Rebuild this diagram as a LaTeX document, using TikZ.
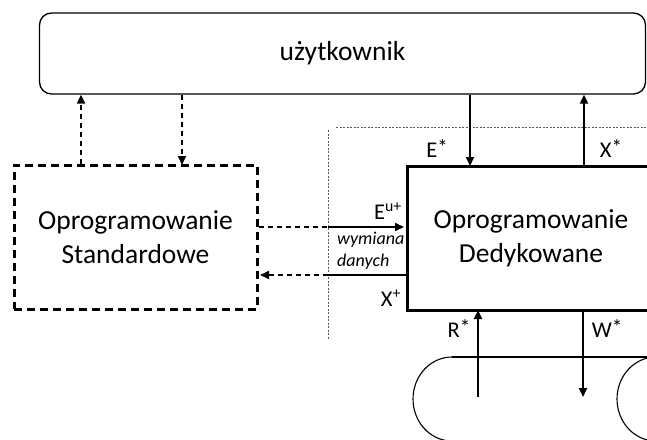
\documentclass[tikz,border=0pt]{standalone}
\usepackage{fontspec}
\setmainfont{Carlito}
\usetikzlibrary{arrows.meta}
\newcommand\supstar{\raisebox{3pt}{\fontsize{21}{21}\selectfont *}}
\begin{document}
\begin{tikzpicture}[x=1pt,y=-1pt,
  mainbox/.style={draw,line width=3pt,minimum width=248pt,minimum height=144pt,inner sep=0pt,align=center,font=\fontsize{27.5}{34}\selectfont},
  stdbox/.style={mainbox,dash pattern=on 8pt off 5pt,minimum width=243pt},
  userbox/.style={draw,line width=1.3pt,rounded corners=12pt,minimum width=606pt,minimum height=81pt,inner sep=0pt,font=\fontsize{27.5}{34}\selectfont},
  solidarrow/.style={line width=2pt,-{Triangle[length=9pt,width=8pt]}},
  dasharrow/.style={solidarrow,dash pattern=on 5pt off 4pt},
  dashline/.style={line width=2pt,dash pattern=on 5pt off 4pt},
  guide/.style={line width=0.6pt,gray!70!black,dash pattern=on 2pt off 1.5pt},
  lbl/.style={inner sep=0pt,font=\fontsize{22.5}{26}\selectfont},
  tape/.style={line width=1.1pt}
]
\useasboundingbox (0,0) rectangle (647,439);
\clip (0,0) rectangle (647,439);

% guide lines
\coordinate (gh1) at (336,127);
\coordinate (gh2) at (650,127);
\coordinate (gv1) at (328,130);
\coordinate (gv2) at (328,340);
\draw[guide] (gh1) -- (gh2);
\draw[guide] (gv1) -- (gv2);

% boxes
\node[userbox] (user) at (342.5,53.5) {użytkownik};
\node[stdbox] (std) at (135.5,237) {Oprogramowanie\\Standardowe};
\node[mainbox] (ded) at (531,238) {Oprogramowanie\\Dedykowane};

% helper coordinates
\coordinate (x81) at (81,0);
\coordinate (x182) at (182,0);
\coordinate (x470) at (470,0);
\coordinate (x584) at (584,0);
\coordinate (x478) at (478,0);
\coordinate (x583) at (583,0);
\coordinate (y227) at (0,227);
\coordinate (y275) at (0,275);
\coordinate (tapein) at (0,397);

% user <-> standard
\draw[dasharrow] (std.north -| x81) -- (user.south -| x81);
\draw[dasharrow] (user.south -| x182) -- ([yshift=-1.5pt]std.north -| x182);

% user <-> dedicated
\draw[solidarrow] (user.south -| x470) -- ([yshift=-1.5pt]ded.north -| x470);
\draw[solidarrow] (ded.north -| x584) -- (user.south -| x584);

% data exchange
\draw[dashline] (std.east |- y227) -- (gv1 |- y227);
\draw[solidarrow] (gv1 |- y227) -- ([xshift=-1.5pt]ded.west |- y227);
\draw[line width=2pt] (ded.west |- y275) -- (gv1 |- y275);
\draw[dasharrow] (gv1 |- y275) -- ([xshift=1.5pt]std.east |- y275);

% tape
\coordinate (tl) at (452,357);
\coordinate (tr) at (660,357);
\coordinate (tc) at (656,399);
\draw[tape] (tl) -- (tr);
\draw[tape] (tl) arc[start angle=270,end angle=90,x radius=39,y radius=42];
\draw[tape] (tc) ellipse[x radius=39,y radius=42];

% dedicated <-> tape
\draw[solidarrow] (tapein -| x478) -- ([yshift=1.5pt]ded.south -| x478);
\draw[solidarrow] (ded.south -| x583) -- (tapein -| x583);

% labels
\node[lbl] (lE) at (437,149) {E\supstar};
\node[lbl] (lX) at (611,149) {X\supstar};
\node[lbl] (lEu) at (388,211) {E\textsuperscript{u+}};
\node[lbl] (lXp) at (391,298) {X\textsuperscript{+}};
\node[lbl] (lR) at (459,329) {R\supstar};
\node[lbl] (lW) at (607,329) {W\supstar};
\node[inner sep=0pt,anchor=west,align=left,font=\fontsize{18}{22}\itshape\selectfont] (wd) at (337,251) {wymiana\\danych};
\end{tikzpicture}
\end{document}
